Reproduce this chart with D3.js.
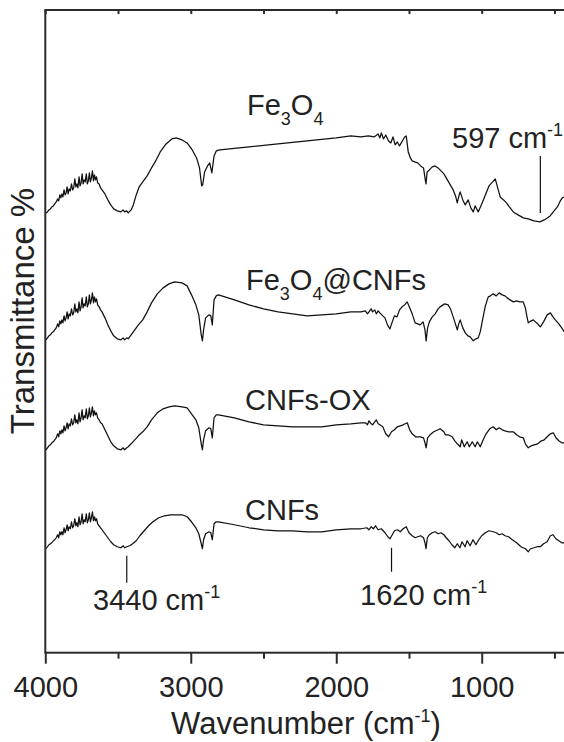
<!DOCTYPE html>
<html>
<head>
<meta charset="utf-8">
<script src="https://cdn.jsdelivr.net/npm/d3@7"></script>
<style>
  html, body { margin: 0; padding: 0; background: #fff; }
  #chart { width: 564px; height: 742px; overflow: hidden; }
  svg { display: block; font-family: 'Liberation Sans', Arial, sans-serif; }
</style>
</head>
<body>
<div id="chart"></div>
<script>
// FTIR spectra, [wavenumber cm-1, transmittance a.u.]
const fe3o4 = [
  [3995, 44.0], [3985, 44.1], [3975, 44.3], [3965, 44.4], [3955, 44.6], [3945, 44.7],
  [3935, 44.9], [3925, 45.1], [3915, 45.4], [3908, 45.2], [3900, 45.8], [3893, 45.5],
  [3886, 45.9], [3879, 45.6], [3871, 46.3], [3864, 45.8], [3857, 46.0], [3850, 46.6],
  [3843, 45.9], [3836, 46.4], [3828, 46.2], [3820, 46.9], [3812, 46.3], [3805, 46.5],
  [3797, 47.4], [3790, 46.6], [3783, 46.9], [3776, 46.5], [3768, 47.6], [3761, 46.7],
  [3754, 47.0], [3747, 47.9], [3740, 46.9], [3733, 47.3], [3726, 47.1], [3718, 47.9],
  [3711, 46.9], [3704, 47.2], [3697, 48.0], [3690, 47.1], [3683, 47.5], [3676, 48.2],
  [3669, 47.2], [3662, 47.8], [3655, 47.3], [3648, 47.6], [3640, 47.0], [3630, 46.9],
  [3620, 46.5], [3610, 46.3], [3590, 45.9], [3570, 45.3], [3550, 44.8], [3530, 44.4],
  [3505, 44.2], [3480, 44.1], [3465, 44.3], [3455, 44.1], [3440, 44.2], [3430, 44.0],
  [3410, 44.3], [3395, 44.8], [3375, 45.8], [3355, 46.6], [3330, 47.1], [3300, 47.7],
  [3270, 48.5], [3245, 49.1], [3210, 50.1], [3170, 50.9], [3130, 51.4], [3100, 51.5],
  [3060, 51.3], [3025, 51.0], [2990, 50.3], [2960, 49.5], [2940, 48.5], [2925, 46.7],
  [2918, 46.8], [2905, 48.1], [2885, 48.7], [2870, 49.0], [2855, 48.0], [2840, 49.7],
  [2825, 50.2], [2800, 50.3], [2600, 50.6], [2400, 50.9], [2200, 51.2], [2000, 51.5],
  [1900, 51.7], [1830, 51.6], [1780, 51.7], [1740, 51.6], [1712, 51.9], [1700, 51.5],
  [1690, 52.0], [1675, 51.4], [1660, 51.8], [1640, 51.2], [1625, 51.0], [1610, 51.6],
  [1595, 50.8], [1580, 51.1], [1565, 50.7], [1545, 51.2], [1530, 51.6], [1519, 51.7],
  [1505, 50.1], [1490, 49.5], [1478, 49.2], [1460, 49.1], [1440, 49.0], [1420, 48.7],
  [1400, 48.5], [1388, 47.3], [1383, 46.9], [1375, 48.1], [1360, 48.3], [1340, 48.6],
  [1320, 48.7], [1300, 48.5], [1280, 48.2], [1260, 47.9], [1244, 47.5], [1220, 46.9],
  [1196, 46.3], [1180, 45.7], [1168, 45.0], [1155, 45.8], [1148, 46.1], [1130, 45.3],
  [1113, 44.8], [1093, 45.3], [1075, 44.5], [1058, 44.1], [1045, 44.7], [1024, 44.1],
  [997, 45.0], [975, 45.8], [950, 46.7], [925, 47.1], [907, 47.4], [890, 46.5],
  [873, 45.6], [850, 45.3], [830, 45.0], [810, 44.6], [783, 44.1], [750, 43.8],
  [714, 43.5], [680, 43.4], [640, 43.2], [600, 43.1], [570, 43.3], [549, 43.5],
  [530, 43.7], [508, 44.1], [480, 44.6], [460, 45.2], [446, 45.5], [430, 45.6],
  [400, 45.3],
];

const fe3o4Cnfs = [
  [3995, 31.3], [3985, 31.5], [3975, 31.7], [3965, 31.8], [3955, 32.0], [3945, 32.1],
  [3935, 32.3], [3925, 32.5], [3915, 32.9], [3908, 32.6], [3900, 33.2], [3893, 32.9],
  [3886, 33.3], [3879, 33.0], [3871, 33.7], [3864, 33.2], [3857, 33.5], [3850, 34.1],
  [3843, 33.4], [3836, 33.9], [3828, 33.7], [3820, 34.4], [3812, 33.8], [3805, 34.0],
  [3797, 34.9], [3790, 34.1], [3783, 34.4], [3776, 34.0], [3768, 35.1], [3761, 34.2],
  [3754, 34.6], [3747, 35.5], [3740, 34.5], [3733, 34.9], [3726, 34.7], [3718, 35.6],
  [3711, 34.6], [3704, 34.9], [3697, 35.8], [3690, 34.9], [3683, 35.3], [3676, 36.0],
  [3669, 35.0], [3662, 35.6], [3655, 35.1], [3648, 35.4], [3640, 34.8], [3630, 34.6],
  [3620, 34.3], [3610, 34.1], [3590, 33.5], [3570, 32.8], [3550, 32.2], [3530, 31.7],
  [3505, 31.4], [3480, 31.3], [3465, 31.5], [3455, 31.3], [3440, 31.5], [3430, 31.4],
  [3410, 31.8], [3385, 32.3], [3360, 32.8], [3330, 33.3], [3300, 34.1], [3270, 35.0],
  [3230, 35.9], [3190, 36.5], [3150, 36.9], [3110, 37.1], [3060, 37.0], [3025, 36.7],
  [2995, 35.8], [2965, 34.8], [2945, 33.8], [2928, 31.8], [2920, 31.2], [2912, 32.3],
  [2898, 33.5], [2875, 33.8], [2862, 33.7], [2852, 32.8], [2840, 35.3], [2825, 35.7],
  [2810, 35.8], [2700, 35.3], [2600, 34.8], [2500, 34.4], [2400, 34.1], [2300, 33.9],
  [2200, 33.7], [2100, 33.8], [2000, 33.9], [1900, 34.1], [1830, 34.1], [1800, 34.2],
  [1785, 33.9], [1775, 34.1], [1760, 34.4], [1750, 34.1], [1735, 34.3], [1725, 33.9],
  [1712, 34.2], [1700, 34.0], [1680, 33.7], [1665, 33.5], [1648, 32.8], [1631, 32.4],
  [1615, 33.1], [1600, 33.7], [1582, 33.6], [1565, 34.3], [1547, 34.6], [1530, 34.8],
  [1512, 35.1], [1495, 34.5], [1478, 33.9], [1458, 33.0], [1440, 32.9], [1423, 32.8],
  [1403, 33.1], [1390, 32.3], [1382, 31.2], [1372, 32.5], [1360, 33.1], [1340, 33.6],
  [1320, 33.9], [1300, 34.4], [1286, 34.6], [1255, 34.9], [1231, 34.8], [1215, 34.4],
  [1203, 33.9], [1185, 33.1], [1168, 32.3], [1158, 32.9], [1148, 33.3], [1130, 32.5],
  [1113, 32.0], [1095, 31.7], [1079, 31.6], [1058, 31.2], [1040, 31.4], [1024, 31.5],
  [1010, 32.1], [997, 33.1], [975, 34.7], [955, 35.6], [940, 35.7], [921, 35.9],
  [900, 35.7], [880, 36.0], [859, 35.8], [840, 35.7], [825, 35.5], [805, 35.3],
  [783, 35.1], [760, 35.2], [740, 35.1], [714, 35.1], [700, 34.5], [690, 33.7],
  [680, 33.0], [660, 33.2], [645, 33.3], [632, 33.1], [615, 32.9], [597, 32.6],
  [575, 33.1], [550, 33.8], [528, 34.0], [510, 33.6], [494, 33.3], [470, 32.9],
  [450, 32.5], [432, 32.1], [400, 31.8],
];

const cnfsOx = [
  [3995, 20.3], [3985, 20.5], [3975, 20.7], [3965, 20.8], [3955, 21.0], [3945, 21.1],
  [3935, 21.3], [3925, 21.5], [3915, 21.9], [3908, 21.6], [3900, 22.2], [3893, 21.9],
  [3886, 22.3], [3879, 22.0], [3871, 22.7], [3864, 22.2], [3857, 22.5], [3850, 23.0],
  [3843, 22.4], [3836, 22.9], [3828, 22.7], [3820, 23.4], [3812, 22.8], [3805, 23.0],
  [3797, 23.8], [3790, 23.0], [3783, 23.3], [3776, 22.9], [3768, 24.0], [3761, 23.1],
  [3754, 23.5], [3747, 24.3], [3740, 23.3], [3733, 23.7], [3726, 23.5], [3718, 24.4],
  [3711, 23.4], [3704, 23.7], [3697, 24.5], [3690, 23.6], [3683, 24.0], [3676, 24.6],
  [3669, 23.7], [3662, 24.2], [3655, 23.8], [3648, 24.0], [3640, 23.5], [3630, 23.3],
  [3620, 23.0], [3610, 22.9], [3590, 22.3], [3570, 21.7], [3550, 21.1], [3530, 20.7],
  [3505, 20.4], [3480, 20.3], [3465, 20.5], [3455, 20.3], [3440, 20.5], [3430, 20.6],
  [3410, 20.9], [3385, 21.3], [3360, 21.7], [3330, 22.1], [3300, 22.6], [3270, 23.3],
  [3230, 24.0], [3190, 24.4], [3150, 24.6], [3110, 24.7], [3060, 24.6], [3025, 24.5],
  [2995, 23.9], [2965, 23.3], [2945, 22.5], [2928, 20.9], [2920, 20.3], [2912, 21.3],
  [2898, 22.2], [2875, 22.5], [2862, 22.4], [2852, 21.5], [2840, 23.5], [2825, 23.8],
  [2810, 23.8], [2700, 23.5], [2600, 23.1], [2500, 22.8], [2400, 22.7], [2300, 22.6],
  [2200, 22.6], [2100, 22.6], [2000, 22.8], [1900, 22.9], [1830, 23.0], [1800, 23.0],
  [1785, 22.8], [1775, 23.2], [1760, 22.9], [1750, 22.8], [1735, 23.1], [1725, 23.3],
  [1712, 22.9], [1700, 22.8], [1680, 22.6], [1660, 21.9], [1640, 21.6], [1620, 22.1],
  [1600, 22.3], [1580, 22.6], [1560, 22.7], [1540, 22.8], [1512, 23.0], [1495, 22.3],
  [1478, 21.9], [1455, 21.6], [1423, 21.6], [1400, 21.5], [1390, 21.0], [1382, 20.5],
  [1372, 21.5], [1355, 21.8], [1330, 22.1], [1300, 22.3], [1286, 22.4], [1260, 22.1],
  [1250, 21.8], [1230, 21.8], [1203, 21.6], [1185, 21.2], [1168, 20.9], [1148, 20.6],
  [1138, 21.3], [1120, 20.6], [1100, 21.1], [1085, 20.6], [1065, 21.1], [1045, 20.6],
  [1030, 21.1], [1010, 20.6], [990, 21.3], [970, 21.9], [945, 22.4], [921, 22.6],
  [900, 22.3], [880, 22.5], [859, 22.3], [840, 22.2], [815, 22.1], [783, 22.1],
  [760, 21.8], [740, 21.6], [714, 21.5], [700, 20.9], [680, 20.5], [660, 20.7],
  [640, 20.8], [615, 20.9], [590, 21.2], [570, 21.3], [550, 21.6], [528, 21.9],
  [508, 22.0], [490, 21.5], [470, 21.2], [450, 21.0], [432, 21.0], [400, 20.9],
];

const cnfs = [
  [3995, 10.4], [3985, 10.6], [3975, 10.8], [3965, 10.9], [3955, 11.0], [3945, 11.2],
  [3935, 11.3], [3925, 11.5], [3915, 11.8], [3908, 11.5], [3900, 12.1], [3893, 11.8],
  [3886, 12.1], [3879, 11.8], [3871, 12.5], [3864, 12.0], [3857, 12.3], [3850, 12.8],
  [3843, 12.2], [3836, 12.6], [3828, 12.4], [3820, 13.1], [3812, 12.5], [3805, 12.7],
  [3797, 13.4], [3790, 12.7], [3783, 13.0], [3776, 12.6], [3768, 13.6], [3761, 12.8],
  [3754, 13.1], [3747, 13.9], [3740, 12.9], [3733, 13.3], [3726, 13.1], [3718, 13.9],
  [3711, 13.0], [3704, 13.3], [3697, 14.0], [3690, 13.1], [3683, 13.5], [3676, 14.1],
  [3669, 13.2], [3662, 13.6], [3655, 13.2], [3648, 13.4], [3640, 12.9], [3630, 12.7],
  [3620, 12.5], [3610, 12.3], [3590, 11.9], [3570, 11.5], [3550, 11.1], [3530, 10.8],
  [3505, 10.6], [3480, 10.5], [3465, 10.7], [3455, 10.5], [3440, 10.6], [3420, 10.7],
  [3400, 10.9], [3375, 11.2], [3350, 11.7], [3320, 12.2], [3290, 12.7], [3260, 13.1],
  [3220, 13.5], [3180, 13.7], [3140, 13.8], [3100, 13.8], [3060, 13.8], [3025, 13.6],
  [2995, 13.1], [2965, 12.5], [2945, 11.9], [2928, 10.9], [2920, 10.4], [2912, 11.3],
  [2898, 11.9], [2875, 12.1], [2862, 12.0], [2852, 11.3], [2840, 12.9], [2825, 13.1],
  [2810, 13.1], [2700, 12.8], [2600, 12.5], [2500, 12.3], [2400, 12.2], [2300, 12.2],
  [2200, 12.1], [2100, 12.1], [2000, 12.3], [1900, 12.4], [1830, 12.4], [1790, 12.5],
  [1775, 12.3], [1760, 12.6], [1745, 12.4], [1730, 12.7], [1712, 12.3], [1690, 12.4],
  [1665, 12.0], [1645, 11.6], [1630, 11.4], [1615, 11.8], [1600, 12.2], [1580, 12.3],
  [1560, 12.1], [1540, 12.4], [1519, 12.6], [1500, 12.0], [1478, 11.7], [1458, 11.5],
  [1440, 11.6], [1420, 11.7], [1400, 11.5], [1390, 11.0], [1383, 10.4], [1374, 11.5],
  [1360, 11.8], [1340, 12.0], [1320, 12.1], [1300, 11.9], [1280, 12.0], [1260, 11.8],
  [1244, 11.5], [1225, 11.2], [1205, 10.8], [1185, 10.5], [1168, 10.9], [1150, 10.5],
  [1135, 11.1], [1115, 10.6], [1100, 11.2], [1080, 10.7], [1060, 11.3], [1040, 10.8],
  [1020, 11.3], [1000, 11.7], [975, 12.0], [950, 12.2], [921, 12.1], [900, 12.0],
  [880, 11.8], [860, 11.9], [840, 11.7], [815, 11.6], [790, 11.3], [760, 11.0],
  [730, 10.6], [700, 10.4], [680, 10.1], [665, 10.4], [640, 10.5], [620, 10.6],
  [597, 10.6], [575, 10.9], [550, 11.1], [528, 11.7], [510, 11.8], [490, 11.4],
  [470, 11.2], [450, 11.0], [432, 11.0], [400, 10.9],
];

// band markers: [wavenumber, T from, T to]
const bandMarks = [[597, 49.7, 44.0], [1620, 10.5, 8.1], [3440, 9.7, 7.0]];

const majorTicks = [4000, 3000, 2000, 1000];
const minorTicks = [3500, 2500, 1500, 500];

class FtirChart {
  constructor(node, options) {
    this.options = options || {};
    this.container = d3.select(node);
    this.setupVar();
    this.setupUtils();
    this.setupDOM();
  }

  setupVar() {
    this.margin = {
      left: this.options.left || 0,
      top: this.options.top || 0,
      bottom: this.options.bottom || 0,
      right: this.options.right || 0,
    };
    this.width = this.options.width;
    this.height = this.options.height;
    this.plotRight = this.width - this.margin.right;
    this.plotBottom = this.height - this.margin.bottom;
  }

  setupUtils() {
    this.x = d3.scaleLinear()
      .domain([4000, 400])
      .range([this.margin.left, this.plotRight]);
    this.y = d3.scaleLinear()
      .domain([0, 64.3])
      .range([this.plotBottom, this.margin.top]);
    this.line = d3.line()
      .x((d) => this.x(d[0]))
      .y((d) => this.y(d[1]));
  }

  setupDOM() {
    this.svg = this.container.append('svg')
      .attr('width', 564)
      .attr('height', 742);
    this.plots = this.svg.append('g').attr('class', 'plots');
    this.axes = this.svg.append('g').attr('class', 'axes');
    this.labels = this.svg.append('g').attr('class', 'labels')
      .attr('fill', '#222')
      .attr('font-size', 29);
  }

  drawAxes() {
    const axisColor = '#2b2b2b';
    const { left, top } = this.margin;

    // frame
    this.axes.append('rect')
      .attr('x', left)
      .attr('y', top)
      .attr('width', this.plotRight - left)
      .attr('height', this.plotBottom - top)
      .attr('fill', 'none')
      .attr('stroke', axisColor)
      .attr('stroke-width', 2);

    const bottom = this.axes.append('g')
      .attr('transform', `translate(0,${this.plotBottom})`)
      .call(d3.axisBottom(this.x)
        .tickValues(majorTicks)
        .tickFormat(d3.format('d'))
        .tickSize(11)
        .tickPadding(13));
    bottom.selectAll('text')
      .attr('font-size', 29)
      .attr('font-family', 'Liberation Sans, Arial, sans-serif')
      .attr('fill', '#222');

    this.axes.append('g')
      .attr('transform', `translate(0,${this.plotBottom})`)
      .call(d3.axisBottom(this.x).tickValues(minorTicks).tickSize(6).tickFormat(''));

    this.axes.append('g')
      .attr('transform', `translate(0,${top})`)
      .call(d3.axisTop(this.x).tickValues(majorTicks.concat(minorTicks)).tickSize(-4).tickFormat(''));

    this.axes.selectAll('.domain').remove();
    this.axes.selectAll('.tick line')
      .attr('stroke', axisColor)
      .attr('stroke-width', 2);
  }

  drawGraph(seriesList) {
    this.plots.selectAll('path.spectrum')
      .data(seriesList)
      .enter()
      .append('path')
      .attr('class', 'spectrum')
      .attr('d', (d) => this.line(d))
      .attr('fill', 'none')
      .attr('stroke', '#111')
      .attr('stroke-width', 1.25)
      .attr('stroke-linejoin', 'round');

    this.plots.selectAll('line.band')
      .data(bandMarks)
      .enter()
      .append('line')
      .attr('class', 'band')
      .attr('x1', (d) => this.x(d[0]))
      .attr('x2', (d) => this.x(d[0]))
      .attr('y1', (d) => this.y(d[1]))
      .attr('y2', (d) => this.y(d[2]))
      .attr('stroke', '#111')
      .attr('stroke-width', 1.2);
  }

  // parts: [text, shift] where shift is 'sub', 'sup' or null
  addLabel(x, y, parts) {
    const text = this.labels.append('text').attr('x', x).attr('y', y);
    let level = 0;
    parts.forEach(([str, kind]) => {
      const target = kind === 'sub' ? 10 : kind === 'sup' ? -12 : 0;
      text.append('tspan')
        .attr('dy', target - level)
        .attr('font-size', kind ? 18 : null)
        .text(str);
      level = target;
    });
    return text;
  }

  drawLabels() {
    this.addLabel(247, 115, [['Fe'], ['3', 'sub'], ['O'], ['4', 'sub']]);
    this.addLabel(246, 290, [['Fe'], ['3', 'sub'], ['O'], ['4', 'sub'], ['@CNFs']]);
    this.addLabel(245, 410, [['CNFs-OX']]);
    this.addLabel(245, 520, [['CNFs']]);

    this.addLabel(452, 148, [['597 cm'], ['-1', 'sup']]);
    this.addLabel(93, 610, [['3440 cm'], ['-1', 'sup']]);
    this.addLabel(360, 605, [['1620 cm'], ['-1', 'sup']]);

    this.addLabel(0, 0, [['Wavenumber (cm'], ['-1', 'sup'], [')']])
      .attr('x', null).attr('y', null)
      .attr('font-size', 31)
      .attr('text-anchor', 'middle')
      .attr('transform', 'translate(306,734)');

    this.labels.append('text')
      .attr('font-size', 33)
      .attr('text-anchor', 'middle')
      .attr('transform', 'translate(34,311) rotate(-90)')
      .text('Transmittance %');
  }
}

const chart = new FtirChart(document.getElementById('chart'), {
  width: 564,
  height: 742,
  top: 10,
  left: 45.3,
  right: -5,
  bottom: 89.3,
});
chart.drawAxes();
chart.drawGraph([fe3o4, fe3o4Cnfs, cnfsOx, cnfs]);
chart.drawLabels();
</script>
</body>
</html>
